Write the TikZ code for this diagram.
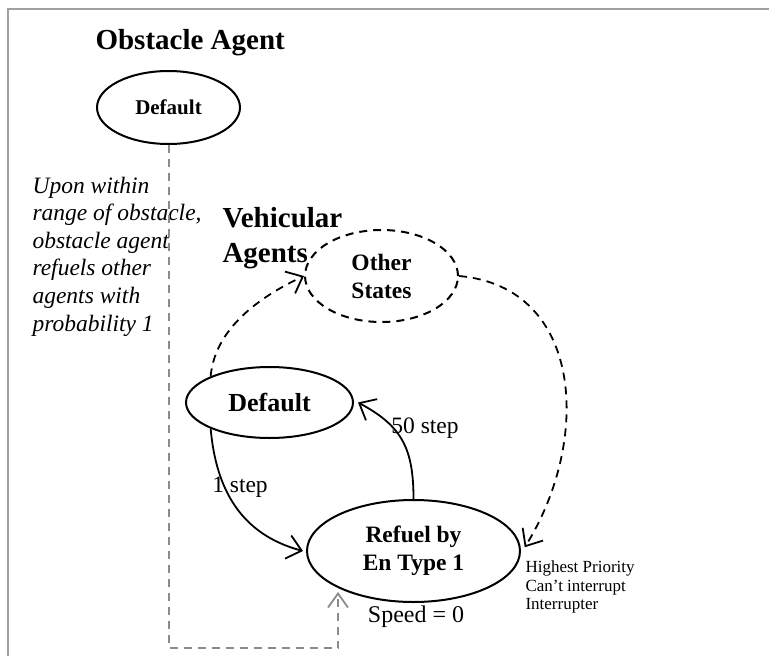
\documentclass[tikz,border=0pt]{standalone}
\usepackage{fontspec}
\setmainfont{Liberation Serif}
\usetikzlibrary{shapes.geometric,arrows.meta}

\definecolor{framegray}{HTML}{A0A0A0}
\definecolor{linkgray}{HTML}{8A8A8A}

\tikzset{
  state/.style={ellipse, draw=black, line width=2pt, inner sep=0pt, align=center, font=\bfseries},
  softstate/.style={state, dashed, dash pattern=on 8pt off 6pt},
  flow/.style={line width=1.8pt, -{Straight Barb[length=14pt,width=24pt,line width=1.8pt]}},
  softflow/.style={flow, dash pattern=on 8pt off 6pt},
  trigger/.style={draw=linkgray, line width=2pt, dash pattern=on 8pt off 6pt,
    -{Straight Barb[length=14pt,width=20pt,line width=1.8pt]}},
  steplabel/.style={font=\fontsize{23.5}{28}\selectfont}
}

\begin{document}
\begin{tikzpicture}[x=1pt,y=-1pt]
  \useasboundingbox (0,0) rectangle (769,656);
  \fill[white] (0,0) rectangle (769,656);
  % frame lines along the top and left
  \draw[framegray, line width=2pt] (769,8.5) -- (8,8.5) -- (8,656);

  % obstacle agent
  \node[anchor=base west, font=\fontsize{29}{34}\selectfont\bfseries] (otitle) at (92,49) {Obstacle Agent};
  \node[state, minimum width=143pt, minimum height=73pt, font=\fontsize{21}{25}\selectfont\bfseries]
    (odef) at (168.5,107.5) {Default};

  % multi-line nodes: the base anchor sits on the last line
  \node[anchor=base west, align=left, font=\fontsize{23.5}{27.6}\selectfont\itshape] (note) at (29,331)
    {Upon within\\range of obstacle,\\obstacle agent\\refuels other\\agents with\\probability 1};

  % vehicular agents
  \node[anchor=base west, align=left, font=\fontsize{29}{35}\selectfont\bfseries] (vtitle) at (219,262)
    {Vehicular\\Agents};
  \node[softstate, minimum width=153pt, minimum height=92pt, font=\fontsize{23.5}{28}\selectfont\bfseries]
    (oth) at (381.5,276) {Other\\States};
  \node[state, minimum width=167pt, minimum height=71pt, font=\fontsize{26}{30}\selectfont\bfseries]
    (vdef) at (269.5,402.5) {Default};
  \node[state, minimum width=213pt, minimum height=102pt, font=\fontsize{23.5}{28}\selectfont\bfseries]
    (ref) at (413.5,551) {Refuel by\\En Type 1};

  \node[font=\fontsize{24}{28}\selectfont] (speed) at (416,617) {Speed = 0};
  \node[anchor=west, align=left, font=\fontsize{17}{18.5}\selectfont] (prio) at (522,587)
    {Highest Priority\\Can’t interrupt\\Interrupter};

  % transition labels
  \node[steplabel] (lab1) at (240,487) {1 step};
  \node[steplabel] (lab50) at (425,428) {50 step};

  % transitions
  \draw[softflow] (vdef.156) to[out=85, in=205, looseness=0.9] (oth.west);
  \draw[softflow] (oth.east) to[out=-5, in=58, looseness=1.15] ([xshift=4pt]ref.2);
  \draw[flow] (vdef.204) to[out=-85, in=165, looseness=1.05] ([xshift=-3pt]ref.west);
  \draw[flow] (ref.north) to[out=90, in=-28, looseness=1.15] ([xshift=4pt]vdef.east);

  % trigger from the obstacle agent
  \coordinate (gcorner) at (338,648);
  \coordinate (gtip) at (338,592);
  \draw[trigger] (odef.south) |- (gcorner) -- (gtip);
\end{tikzpicture}
\end{document}
